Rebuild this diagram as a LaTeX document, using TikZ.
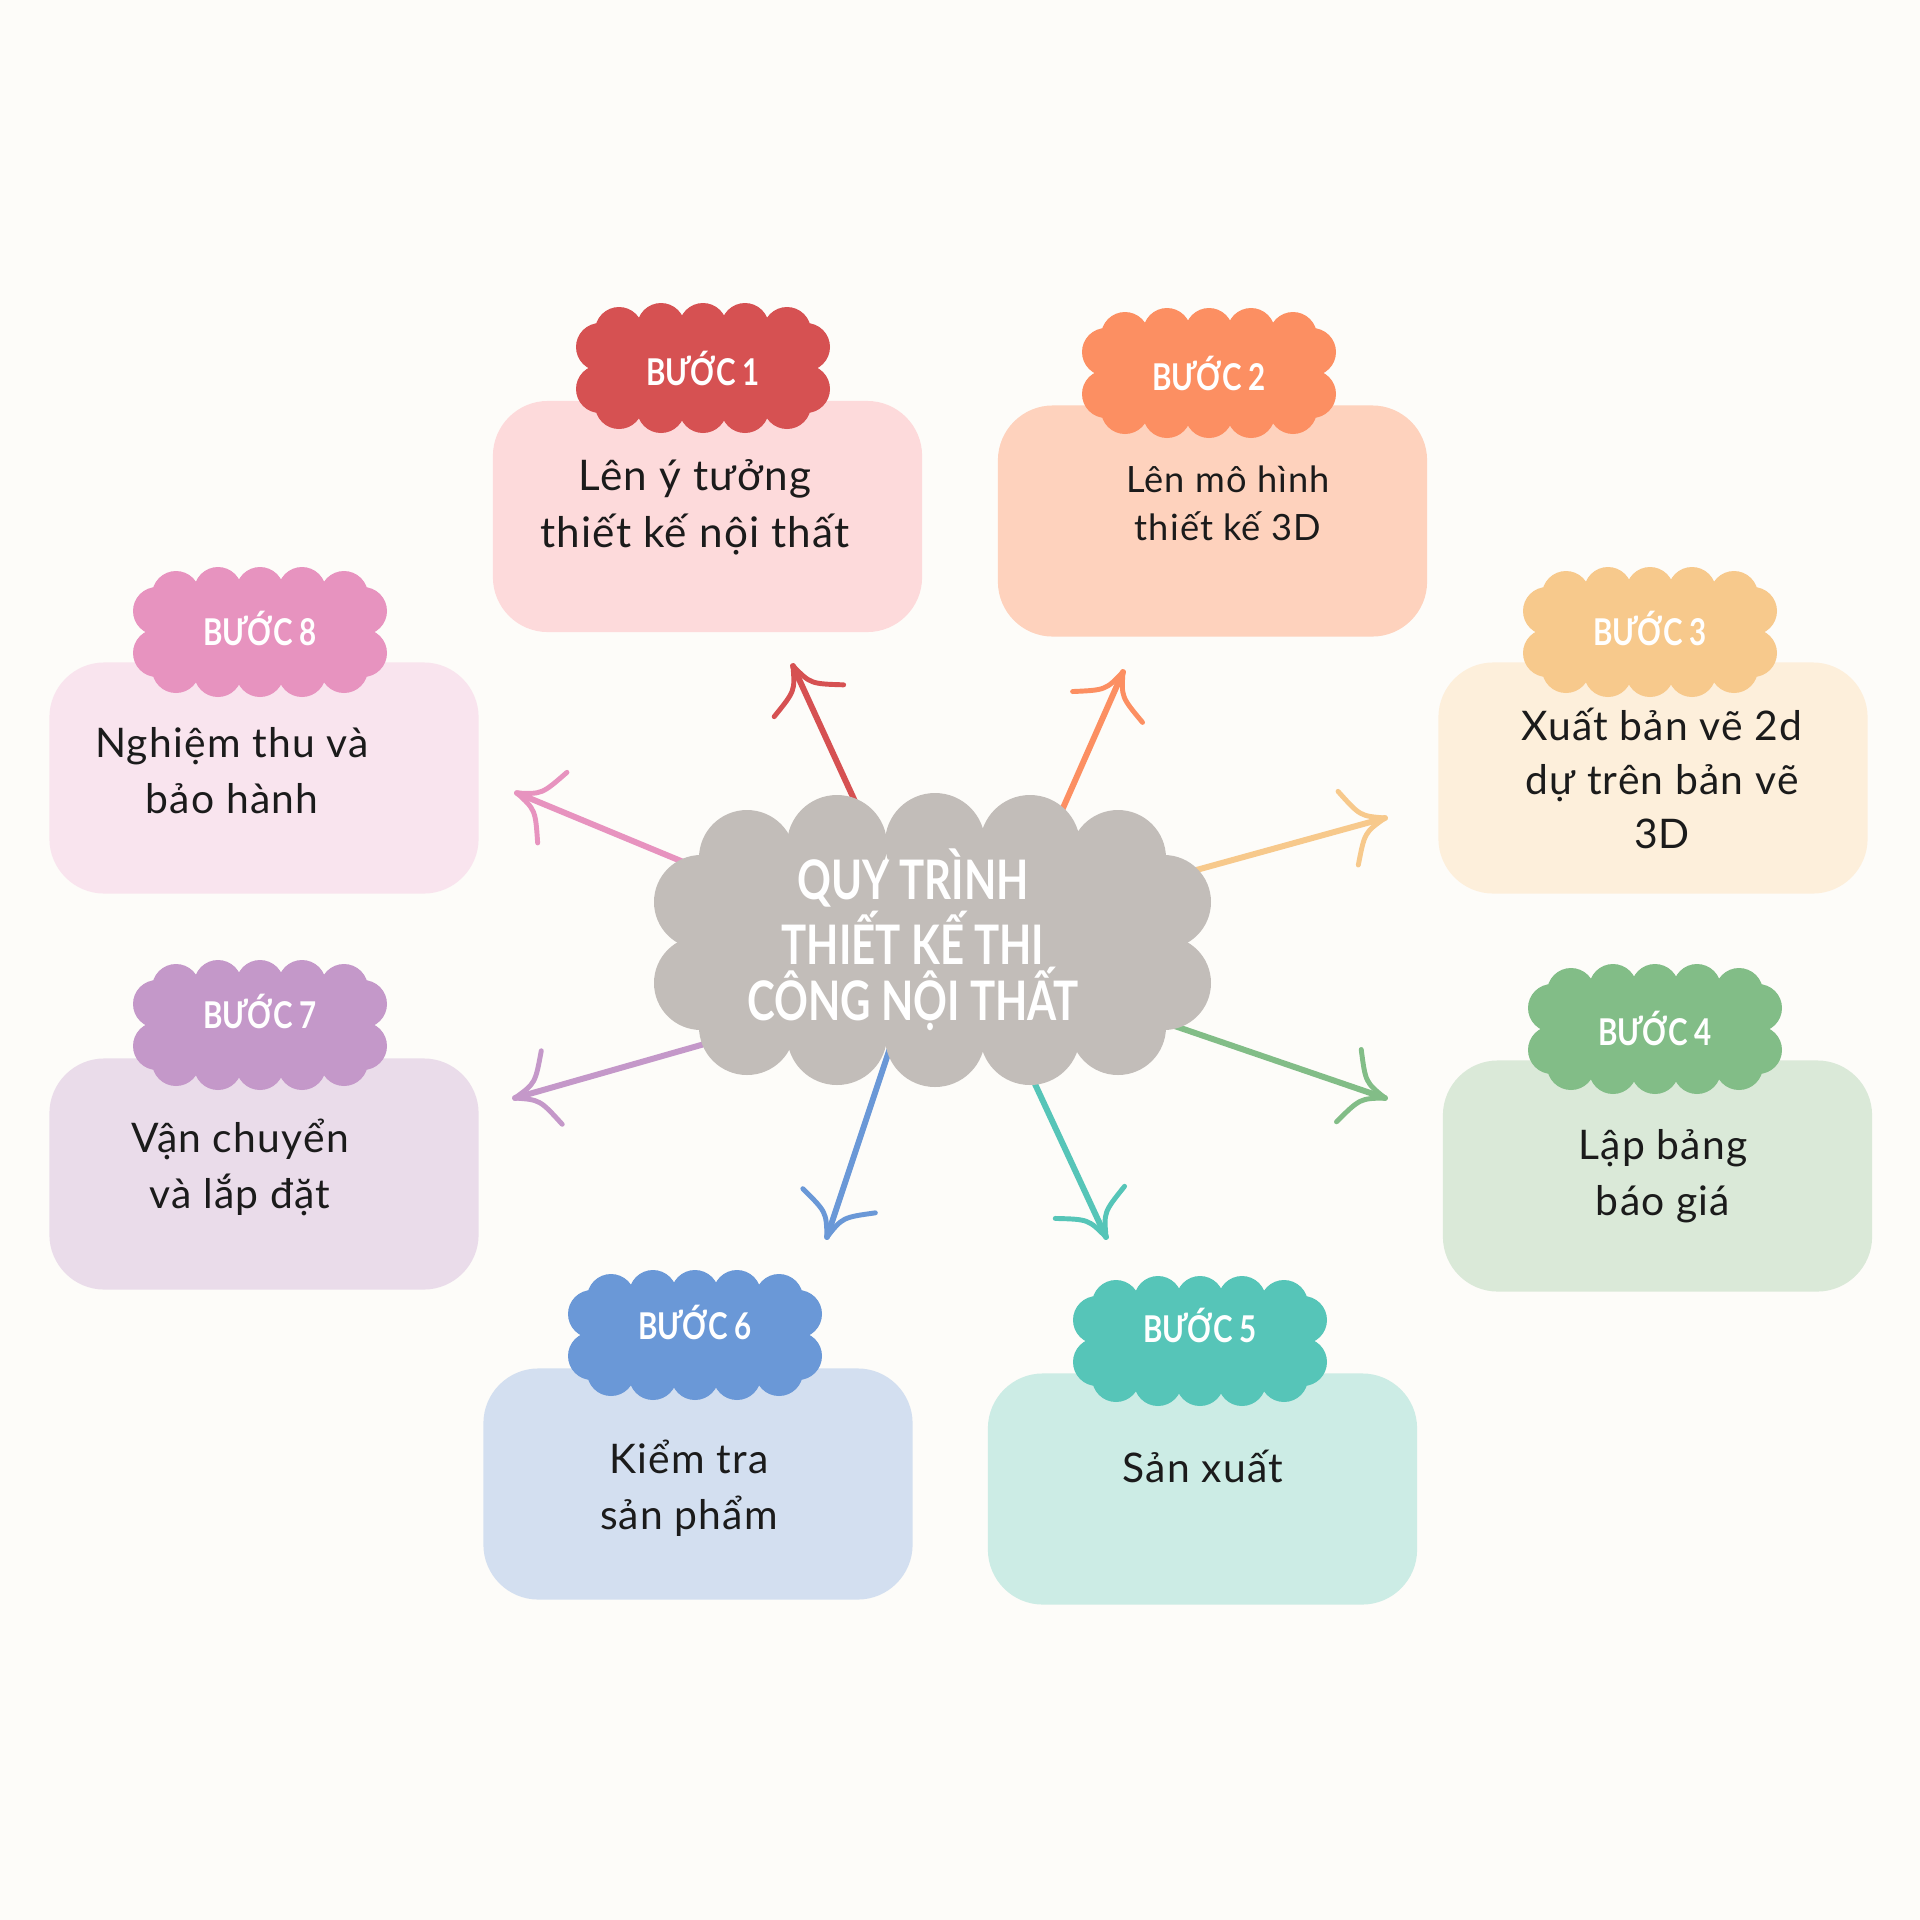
\documentclass[tikz,border=0pt]{standalone}
\usepackage{fontspec}
\usepackage{graphicx}
\setmainfont{Lato}[LetterSpace=3]
\newfontfamily\headfont{Lato}
\usetikzlibrary{calc}

\definecolor{bg}{HTML}{FDFCF9}
\definecolor{ink}{HTML}{1B1B1B}
\definecolor{cloudgray}{HTML}{C2BDB9}
\definecolor{c1}{HTML}{D65152}\definecolor{c1l}{HTML}{FDDADB}
\definecolor{c2}{HTML}{FC8F62}\definecolor{c2l}{HTML}{FED2BD}
\definecolor{c3}{HTML}{F7C98C}\definecolor{c3l}{HTML}{FDEFDB}
\definecolor{c4}{HTML}{82BD87}\definecolor{c4l}{HTML}{DAE9D8}
\definecolor{c5}{HTML}{56C5B8}\definecolor{c5l}{HTML}{CCECE5}
\definecolor{c6}{HTML}{6A98D7}\definecolor{c6l}{HTML}{D3DFF0}
\definecolor{c7}{HTML}{C498C9}\definecolor{c7l}{HTML}{EADCEA}
\definecolor{c8}{HTML}{E793BF}\definecolor{c8l}{HTML}{F9E4EE}

\tikzset{
  stepbox/.style={rounded corners=0.55cm, minimum width=4.29cm, minimum height=2.31cm, inner sep=0pt, draw=none},
  body/.style={text=ink, align=center, font=\fontsize{11.6}{15.9}\selectfont, anchor=base, inner sep=0pt},
  btext/.style={text=white, font=\headfont\fontsize{10.5}{11}\selectfont\bfseries, inner sep=0pt},
  titletext/.style={text=white, align=center, font=\headfont\fontsize{15.5}{15.9}\selectfont\bfseries, anchor=base, inner sep=0pt},
  arr/.style={line width=1.7pt, line cap=round},
}

% name, cx, cy, colour, text, text y
\newcommand\mybadge[6]{%
  \begin{scope}[shift={(#2,#3)}]
    \fill[#4] (-100,-42) rectangle (100,42);
    \foreach \xx/\yy in {-84/-37,-42/-41,0/-41,42/-41,84/-37,-84/37,-42/41,0/41,42/41,84/37,-103/-21,-103/21,103/-21,103/21}
      \fill[#4] (\xx,\yy) circle[radius=24];
  \end{scope}
  \node[btext] (#1) at (#2,#6) {\scalebox{0.8}[1]{#5}};
}

% tail, tip, colour
\newcommand\myarrow[3]{%
  \draw[arr,#3,shorten <=-0.25cm] (#1) -- (#2);
  \draw[arr,#3,line width=1.4pt] (#2) .. controls ($(#2)!0.25cm!20:(#1)$) .. ($(#2)!0.54cm!45:(#1)$);
  \draw[arr,#3,line width=1.4pt] (#2) .. controls ($(#2)!0.25cm!-20:(#1)$) .. ($(#2)!0.54cm!-45:(#1)$);
}

\begin{document}
\begin{tikzpicture}[x=0.01cm,y=-0.01cm]
\useasboundingbox (0,0) rectangle (1920,1920);
\fill[bg] (0,0) rectangle (1920,1920);

% arrow end points
\coordinate (t1) at (853,797);  \coordinate (h1) at (793,666);
\coordinate (t2) at (1063,808); \coordinate (h2) at (1123,672);
\coordinate (t3) at (1200,869); \coordinate (h3) at (1385,818);
\coordinate (t4) at (1163,1022);\coordinate (h4) at (1385,1098);
\coordinate (t5) at (1035,1084);\coordinate (h5) at (1106,1237);
\coordinate (t6) at (887,1057); \coordinate (h6) at (827,1237);
\coordinate (t7) at (708,1043); \coordinate (h7) at (515,1098);
\coordinate (t8) at (681,861);  \coordinate (h8) at (517,793);

\myarrow{t1}{h1}{c1}
\myarrow{t2}{h2}{c2}
\myarrow{t3}{h3}{c3}
\myarrow{t4}{h4}{c4}
\myarrow{t5}{h5}{c5}
\myarrow{t6}{h6}{c6}
\myarrow{t7}{h7}{c7}
\myarrow{t8}{h8}{c8}

% central cloud
\fill[cloudgray] (700,860) rectangle (1165,1030);
\foreach \xx/\yy/\rr in {747/858/48, 837/845/50, 935/843/50, 1030/845/50, 1118/858/48,
                        747/1027/48, 837/1035/50, 935/1037/50, 1030/1035/50, 1118/1027/48,
                        701/902/47, 701/983/47, 1164/902/47, 1164/983/47}
  \fill[cloudgray] (\xx,\yy) circle[radius=\rr];
\node[titletext] (title) at (913,1020)
  {\scalebox{0.77}[1]{QUY TRÌNH}\\\scalebox{0.77}[1]{THIẾT KẾ THI}\\\scalebox{0.77}[1]{CÔNG NỘI THẤT}};

% boxes
\node[stepbox, fill=c1l] (s1) at (707.5,516.5) {};
\node[stepbox, fill=c2l] (s2) at (1212.5,521) {};
\node[stepbox, fill=c3l] (s3) at (1653,778) {};
\node[stepbox, fill=c4l] (s4) at (1657.5,1176) {};
\node[stepbox, fill=c5l] (s5) at (1202.5,1489) {};
\node[stepbox, fill=c6l] (s6) at (698,1484) {};
\node[stepbox, fill=c7l] (s7) at (264,1174) {};
\node[stepbox, fill=c8l] (s8) at (264,778) {};

% badges
\mybadge{b1}{703}{368}{c1}{BƯỚC 1}{368}
\mybadge{b2}{1209}{373}{c2}{BƯỚC 2}{373}
\mybadge{b3}{1650}{632}{c3}{BƯỚC 3}{628}
\mybadge{b4}{1655}{1029}{c4}{BƯỚC 4}{1028}
\mybadge{b5}{1200}{1341}{c5}{BƯỚC 5}{1325}
\mybadge{b6}{695}{1335}{c6}{BƯỚC 6}{1322}
\mybadge{b7}{260}{1025}{c7}{BƯỚC 7}{1011}
\mybadge{b8}{260}{632}{c8}{BƯỚC 8}{628}

% texts (anchor = baseline of last line)
\node[body, font=\fontsize{12}{16.2}\selectfont] (l1) at (695,547) {Lên ý tưởng\\thiết kế nội thất};
\node[body, font=\fontsize{10.3}{13.6}\selectfont] (l2) at (1228,540) {Lên mô hình\\thiết kế 3D};
\node[body, font=\fontsize{11.6}{15.3}\selectfont] (l3) at (1662,848) {Xuất bản vẽ 2d\\dự trên bản vẽ\\3D};
\node[body] (l4) at (1663,1215) {Lập bảng\\báo giá};
\node[body] (l5) at (1203,1482) {Sản xuất};
\node[body] (l6) at (689,1529) {Kiểm tra\\sản phẩm};
\node[body] (l7) at (240,1208) {Vận chuyển\\và lắp đặt};
\node[body] (l8) at (232,813) {Nghiệm thu và\\bảo hành};
\end{tikzpicture}
\end{document}
